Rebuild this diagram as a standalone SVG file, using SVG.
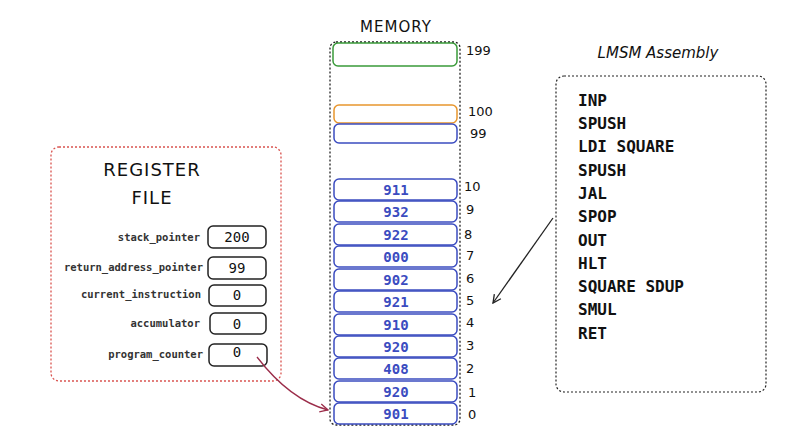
<svg xmlns="http://www.w3.org/2000/svg" width="800" height="448" viewBox="0 0 800 448">
<style>
.cell{fill:#fff;stroke:#3b4cc0;stroke-width:1.5}
.cv{font-family:"DejaVu Sans Mono",monospace;font-size:14px;font-weight:600;fill:#3b4cc0;text-anchor:middle}
.idx{font-family:"DejaVu Sans",sans-serif;font-size:13px;fill:#111}
.lab{font-family:"DejaVu Sans Mono",monospace;font-size:10.5px;font-weight:bold;fill:#333;text-anchor:end}
.reg{fill:#fff;stroke:#222;stroke-width:1.5}
.rv{font-family:"DejaVu Sans Mono",monospace;font-size:14px;fill:#111;text-anchor:middle}
.title{font-family:"DejaVu Sans",sans-serif;fill:#111}
.asm{font-family:"DejaVu Sans Mono",monospace;font-size:16px;font-weight:bold;fill:#111}
</style>
<defs>
<marker id="ah" markerWidth="10" markerHeight="10" refX="9" refY="5" orient="auto" markerUnits="userSpaceOnUse"><path d="M1,1 L9,5 L1,9" fill="none" stroke="#222" stroke-width="1.3"/></marker>
<marker id="ahr" markerWidth="10" markerHeight="10" refX="9" refY="5" orient="auto" markerUnits="userSpaceOnUse"><path d="M1,1 L9,5 L1,9" fill="none" stroke="#9b2d4a" stroke-width="1.3"/></marker>
</defs>
<rect width="800" height="448" fill="#fff"/>
<g id="memory">
<text x="396" y="32" class="title" font-size="15" letter-spacing="1" text-anchor="middle">MEMORY</text>
<rect x="330" y="42" width="130" height="383" rx="6" fill="none" stroke="#222" stroke-width="1.3" stroke-dasharray="2,2"/>
<rect x="333" y="43" width="124" height="23" rx="5" fill="#fff" stroke="#3a9a3a" stroke-width="1.5"/>
<text x="466" y="55" class="idx">199</text>
<rect x="334" y="105" width="123" height="18" rx="5" fill="#fff" stroke="#e8962e" stroke-width="1.5"/>
<text x="468" y="116" class="idx">100</text>
<rect x="334" y="124" width="123" height="19" rx="5" class="cell"/>
<text x="470" y="138" class="idx">99</text>
<g><rect x="334" y="179" width="123" height="21" rx="5" class="cell"/><text x="396" y="195" class="cv">911</text><text x="464" y="191" class="idx">10</text></g>
<g><rect x="334" y="201" width="123" height="21" rx="5" class="cell"/><text x="396" y="217" class="cv">932</text><text x="466" y="214" class="idx">9</text></g>
<g><rect x="334" y="224" width="123" height="21" rx="5" class="cell"/><text x="396" y="240" class="cv">922</text><text x="464" y="239" class="idx">8</text></g>
<g><rect x="334" y="246" width="123" height="21" rx="5" class="cell"/><text x="396" y="262" class="cv">000</text><text x="466" y="260" class="idx">7</text></g>
<g><rect x="334" y="269" width="123" height="21" rx="5" class="cell"/><text x="396" y="285" class="cv">902</text><text x="466" y="283" class="idx">6</text></g>
<g><rect x="334" y="291" width="123" height="21" rx="5" class="cell"/><text x="396" y="307" class="cv">921</text><text x="466" y="305" class="idx">5</text></g>
<g><rect x="334" y="314" width="123" height="21" rx="5" class="cell"/><text x="396" y="330" class="cv">910</text><text x="466" y="327" class="idx">4</text></g>
<g><rect x="334" y="336" width="123" height="21" rx="5" class="cell"/><text x="396" y="352" class="cv">920</text><text x="466" y="350" class="idx">3</text></g>
<g><rect x="334" y="358" width="123" height="21" rx="5" class="cell"/><text x="396" y="374" class="cv">408</text><text x="466" y="373" class="idx">2</text></g>
<g><rect x="334" y="381" width="123" height="21" rx="5" class="cell"/><text x="396" y="397" class="cv">920</text><text x="468" y="397" class="idx">1</text></g>
<g><rect x="334" y="403" width="123" height="21" rx="5" class="cell"/><text x="396" y="419" class="cv">901</text><text x="468" y="419" class="idx">0</text></g>
</g>
<g id="register-file">
<rect x="51" y="147" width="230" height="234" rx="8" fill="none" stroke="#d9534f" stroke-width="1.3" stroke-dasharray="2,2"/>
<text x="152" y="176" class="title" font-size="18" letter-spacing="1" text-anchor="middle">REGISTER</text>
<text x="152" y="204" class="title" font-size="18" letter-spacing="1" text-anchor="middle">FILE</text>
<g id="r-sp"><text x="200" y="241" class="lab">stack_pointer</text><rect x="208" y="226" width="58" height="22" rx="5" class="reg"/><text x="237" y="242" class="rv">200</text></g>
<g id="r-rap"><text x="203" y="271" class="lab">return_address_pointer</text><rect x="208" y="257" width="58" height="22" rx="5" class="reg"/><text x="237" y="273" class="rv">99</text></g>
<g id="r-ci"><text x="201" y="298" class="lab">current_instruction</text><rect x="209" y="285" width="57" height="21" rx="5" class="reg"/><text x="237" y="300" class="rv">0</text></g>
<g id="r-acc"><text x="200" y="327" class="lab">accumulator</text><rect x="210" y="313" width="56" height="21" rx="5" class="reg"/><text x="237" y="329" class="rv">0</text></g>
<g id="r-pc"><text x="203" y="358" class="lab">program_counter</text><rect x="209" y="344" width="58" height="22" rx="5" class="reg"/><text x="237" y="357" class="rv">0</text></g>
</g>
<g id="assembly">
<text x="658" y="58" class="title" font-size="15" text-anchor="middle" font-style="italic">LMSM Assembly</text>
<rect x="556" y="76" width="210" height="316" rx="8" fill="none" stroke="#222" stroke-width="1.2" stroke-dasharray="2,2"/>
<text class="asm" x="578" y="106">INP</text>
<text class="asm" x="578" y="129">SPUSH</text>
<text class="asm" x="578" y="152">LDI SQUARE</text>
<text class="asm" x="578" y="176">SPUSH</text>
<text class="asm" x="578" y="199">JAL</text>
<text class="asm" x="578" y="222">SPOP</text>
<text class="asm" x="578" y="246">OUT</text>
<text class="asm" x="578" y="269">HLT</text>
<text class="asm" x="578" y="292">SQUARE SDUP</text>
<text class="asm" x="578" y="315">SMUL</text>
<text class="asm" x="578" y="339">RET</text>
</g>
<g id="connectors">
<path d="M553,218 L493,303" fill="none" stroke="#222" stroke-width="1.3" marker-end="url(#ah)"/>
<path d="M257,357 Q290,400 328,410" fill="none" stroke="#9b2d4a" stroke-width="1.3" marker-end="url(#ahr)"/>
</g>
</svg>
